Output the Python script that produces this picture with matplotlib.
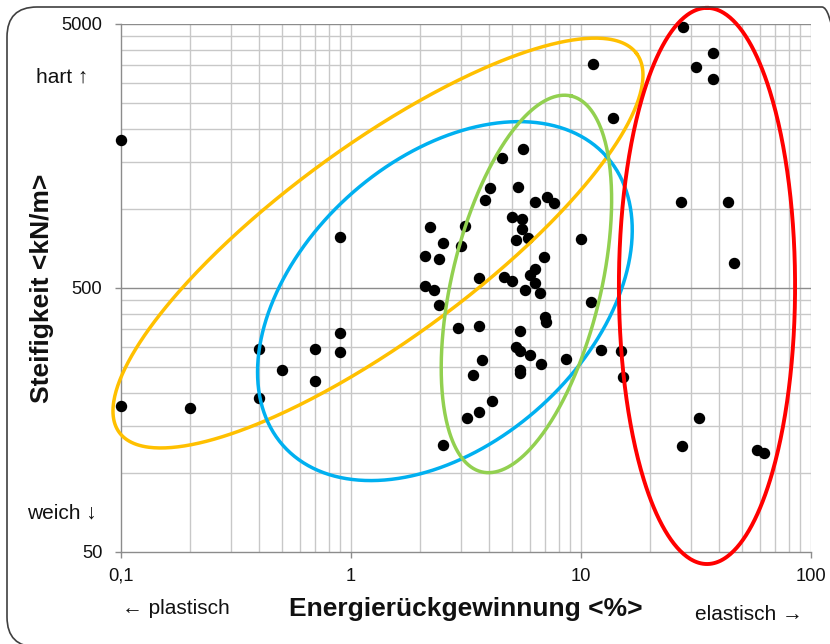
import numpy as np
import matplotlib
matplotlib.use('Agg')
import matplotlib.pyplot as plt
from matplotlib.patches import FancyBboxPatch
from matplotlib.ticker import FixedLocator, FixedFormatter, NullFormatter

plt.rcParams['font.family'] = ['Liberation Sans', 'DejaVu Sans']

# Messpunkte: Energierueckgewinnung [%] und Steifigkeit [kN/m]
energy = [0.1, 0.9, 0.9, 0.9, 0.7, 0.7, 0.5, 0.4, 0.4, 0.1, 0.2,
          5.61, 4.52, 5.30, 4.01, 3.82, 6.31, 7.09, 7.63, 5.00, 5.54,
          5.54, 5.21, 5.90, 10.0, 2.21, 3.12, 2.50, 3.01, 2.10, 2.41,
          6.88, 3.61, 4.63, 5.01, 6.0, 6.33, 6.33, 5.71, 6.63, 2.10,
          2.30, 2.41, 11.0, 2.91, 3.61, 5.43, 6.97, 7.06, 5.21, 5.43,
          6.02, 6.72, 8.58, 3.70, 3.40, 5.43, 5.43, 4.12, 3.61, 3.20,
          2.50, 27.7, 37.4, 31.5, 37.4, 11.3, 13.8, 27.1, 43.7, 46.2,
          12.2, 14.9, 15.3, 27.4, 32.7, 58.4, 62.7]
stiffness = [1820, 780, 337, 285, 294, 223, 244, 294, 192, 178, 175,
             1675, 1549, 1210, 1192, 1077, 1056, 1103, 1052, 927, 910,
             839, 758, 776, 769, 849, 858, 738, 721, 663, 642,
             657, 544, 552, 533, 559, 589, 524, 491, 480, 509,
             491, 431, 443, 352, 360, 345, 387, 371, 298, 289,
             279, 258, 270, 267, 235, 245, 238, 187, 169, 161,
             127, 4857, 3870, 3437, 3097, 3519, 2209, 1061, 1061, 624,
             291, 289, 230, 126, 161, 122, 119]

# Gruppen: Mittelpunkt (x, y), Halbachsen in x-Dekaden, Drehwinkel
group_colors = ['#FFC000', '#00B0F0', '#92D050', '#FF0000']
group_centers = [(1.31, 740), (2.56, 446), (5.79, 518), (35.3, 509)]
group_axes = [(1.394, 0.422), (0.943, 0.619), (0.840, 0.324), (1.209, 0.383)]
group_angles = [36.2, 41.9, 76.6, 90.0]

x_ticks = [0.1, 1, 10, 100]
x_labels = ['0,1', '1', '10', '100']
y_ticks = [50, 500, 5000]
y_labels = ['50', '500', '5000']

W, H = 830, 644
fig = plt.figure(figsize=(W / 100, H / 100), dpi=100)
ax = fig.add_axes([121 / W, 1 - 552 / H, 690 / W, 528 / H])
ax.set_xscale('log')
ax.set_yscale('log')
ax.set_xlim(0.1, 100)
ax.set_ylim(50, 5000)

# Gitter: x-Nebenlinien 2..9, y-Nebenlinien in 50er bzw. 500er Schritten
x_minor = [m * d for d in (0.1, 1, 10) for m in range(2, 10)]
y_minor = list(range(100, 500, 50)) + list(range(1000, 5000, 500))
for v in x_minor + x_ticks[1:]:
    ax.axvline(v, color='#c8c8c8', lw=1.0, zorder=0)
for v in y_minor:
    ax.axhline(v, color='#c8c8c8', lw=1.0, zorder=0)
for v in y_ticks[1:]:
    ax.axhline(v, color='#8c8c8c', lw=1.0, zorder=0)

ax.xaxis.set_major_locator(FixedLocator(x_ticks))
ax.xaxis.set_major_formatter(FixedFormatter(x_labels))
ax.yaxis.set_major_locator(FixedLocator(y_ticks))
ax.yaxis.set_major_formatter(FixedFormatter(y_labels))
ax.xaxis.set_minor_formatter(NullFormatter())
ax.yaxis.set_minor_formatter(NullFormatter())
ax.tick_params(which='minor', length=0)
ax.tick_params(which='major', direction='out', length=4.5, width=1.0,
               color='#8c8c8c', labelsize=13.2, labelcolor='#111111')
ax.tick_params(axis='y', pad=9)
ax.tick_params(axis='x', pad=7)
for side in ('top', 'right'):
    ax.spines[side].set_visible(False)
for side in ('left', 'bottom'):
    ax.spines[side].set_color('#8c8c8c')
    ax.spines[side].set_linewidth(1.0)

ax.scatter(energy, stiffness, s=52, color='black', zorder=3, clip_on=False)

# Ellipsen im Darstellungsraum aufbauen und in Datenkoordinaten zurueckrechnen
trans = ax.transData
dec = trans.transform((10, 1))[0] - trans.transform((1, 1))[0]
t = np.linspace(0, 2 * np.pi, 500)
for (cx, cy), (a, b), ang, col in zip(group_centers, group_axes, group_angles, group_colors):
    c = trans.transform((cx, cy))
    th = np.deg2rad(ang)
    u = a * dec * np.cos(t)
    v = b * dec * np.sin(t)
    px = c[0] + u * np.cos(th) - v * np.sin(th)
    py = c[1] + u * np.sin(th) + v * np.cos(th)
    pts = trans.inverted().transform(np.column_stack([px, py]))
    ax.plot(pts[:, 0], pts[:, 1], color=col, lw=2.8 if col == '#FF0000' else 2.5,
            zorder=4, clip_on=False)

fig.text(42 / W, 1 - 288 / H, 'Steifigkeit <kN/m>', rotation=90, ha='center',
         va='center', fontsize=19, fontweight='bold', color='#111111')
fig.text(466 / W, 1 - 609 / H, 'Energierückgewinnung <%>', ha='center',
         va='center', fontsize=19, fontweight='bold', color='#111111')
fig.text(36 / W, 1 - 77 / H, 'hart ↑', ha='left', va='center', fontsize=15,
         color='#111111')
fig.text(27 / W, 1 - 513 / H, 'weich ↓', ha='left', va='center', fontsize=15,
         color='#111111')
fig.text(122 / W, 1 - 609 / H, '← plastisch', ha='left', va='center',
         fontsize=15, color='#111111')
fig.text(695 / W, 1 - 614 / H, 'elastisch →', ha='left', va='center',
         fontsize=15, color='#111111')

# abgerundeter Rahmen um die ganze Grafik
frame = FancyBboxPatch((0.07, -0.03), 8.45, 6.4, boxstyle='round,pad=0,rounding_size=0.3',
                       transform=fig.dpi_scale_trans, fill=False, edgecolor='#404040',
                       lw=1.2, clip_on=False)
fig.patches.append(frame)

fig.savefig('out.png', dpi=100)
